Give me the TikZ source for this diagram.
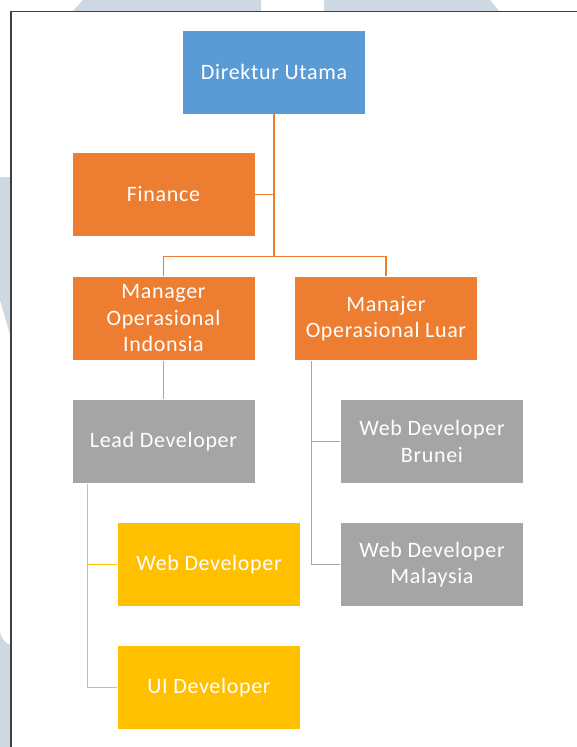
\documentclass[tikz,border=0pt]{standalone}
\usepackage{fontspec}
\setmainfont{Carlito}[LetterSpace=3]
\definecolor{cblue}{HTML}{5B9BD5}
\definecolor{corange}{HTML}{ED7D31}
\definecolor{cgrey}{HTML}{A5A5A5}
\definecolor{cyellow}{HTML}{FFC000}
\definecolor{wmark}{HTML}{CDD8E2}
\definecolor{frame}{HTML}{404040}
\tikzset{
  box/.style={rectangle, draw=white, line width=0.8pt, minimum width=183pt, minimum height=84pt,
    inner sep=2pt, align=center, text=white, font=\fontsize{22}{26.5}\selectfont},
  bluebox/.style={box, fill=cblue},
  orangebox/.style={box, fill=corange},
  greybox/.style={box, fill=cgrey},
  yellowbox/.style={box, fill=cyellow},
  oline/.style={draw=corange, line width=1.2pt},
  gline/.style={draw=cgrey, line width=1.2pt},
  yline/.style={draw=cyellow, line width=1.2pt}
}
\begin{document}
\begin{tikzpicture}[x=1pt,y=-1pt]
\useasboundingbox (0,0) rectangle (577,747);
\fill[white] (0,0) rectangle (577,747);
% watermark shapes outside the frame
\fill[wmark] (72,12) -- (83,0) -- (261,0) -- (261,12) -- cycle;
\fill[wmark] (324,12) -- (324,0) -- (490,0) -- (500,12) -- cycle;
\fill[wmark] (0,177) -- (11,177) -- (11,338) -- (0,300) -- cycle;
\fill[wmark] (0,747) -- (0,630) arc[start angle=180, end angle=90, radius=16] -- (11,614) -- (11,747) -- cycle;
% frame
\fill[white] (11,11.5) rectangle (577,747);
\draw[frame, line width=1.5pt] (11,747) -- (11,11.5) -- (577,11.5);
% nodes
\node[bluebox]   (dir)    at (274,72)    {Direktur Utama};
\node[orangebox] (fin)    at (163.5,194.5) {Finance};
\node[orangebox] (mgr)    at (163.5,318.5) {Manager\\Operasional\\Indonsia};
\node[orangebox] (luar)   at (386,318.5) {Manajer\\Operasional Luar};
\node[greybox]   (lead)   at (163.5,441.5) {Lead Developer};
\node[greybox]   (brunei) at (432,441.5) {Web Developer\\Brunei};
\node[yellowbox] (web)    at (209,564.5) {Web Developer};
\node[greybox]   (malay)  at (432,564.5) {Web Developer\\Malaysia};
\node[yellowbox] (ui)     at (209,687.5) {UI Developer};
% connectors
\coordinate (bus) at ([yshift=19.5pt]mgr.north -| dir.south);
\coordinate (lt) at ([xshift=17pt]luar.south west);
\coordinate (yt) at ([xshift=16pt]lead.south west);
\draw[oline] (dir.south) -- (bus);
\draw[oline] (fin.east) -- (fin.east -| dir.south);
\draw[oline] (mgr.north) |- (bus) -| (luar.north);
\draw[gline] (mgr.south) -- (lead.north);
\draw[gline] (lt) |- (brunei.west);
\draw[gline] (lt) |- (malay.west);
\draw[yline] (yt) |- (web.west);
\draw[yline] (yt) |- (ui.west);
\end{tikzpicture}
\end{document}
